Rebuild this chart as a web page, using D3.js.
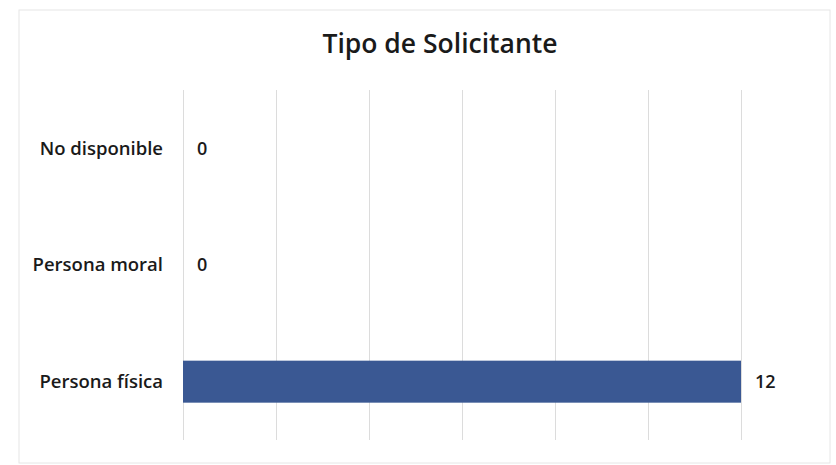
<!DOCTYPE html>
<html>
<head>
<meta charset="utf-8">
<script src="https://cdn.jsdelivr.net/npm/d3@7"></script>
<style>
  body { margin: 0; background: #fff; }
  text { font-family: "Open Sans", sans-serif; fill: #1a1a1a; }
</style>
</head>
<body>
<svg id="chart"></svg>
<script>
// data
var categories = ["No disponible", "Persona moral", "Persona física"];
var values = [0, 0, 12];
var gridTicks = [0, 2, 4, 6, 8, 10, 12];
var title = "Tipo de Solicitante";

var width = 836, height = 465;
var svg = d3.select("#chart").attr("width", width).attr("height", height);

// outer frame (faint scanned border)
svg.append("rect")
  .attr("x", 19).attr("y", 10)
  .attr("width", 811).attr("height", 453)
  .attr("fill", "none")
  .attr("stroke", "#e6e6e6")
  .attr("stroke-width", 1);

var margin = {left: 183, right: 95, top: 90, bottom: 25};
var x = d3.scaleLinear().domain([0, 12]).range([margin.left, width - margin.right]);
var y = d3.scaleBand().domain(categories)
  .range([margin.top, height - margin.bottom])
  .paddingInner(0.64).paddingOuter(0.32);

// gridlines
svg.append("g")
  .selectAll("line")
  .data(gridTicks)
  .enter().append("line")
  .attr("x1", d => x(d) + 0.5).attr("x2", d => x(d) + 0.5)
  .attr("y1", margin.top).attr("y2", 440)
  .attr("stroke", "#dcdcdc")
  .attr("stroke-width", 1);

// bars
svg.append("g")
  .selectAll("rect")
  .data(values)
  .enter().append("rect")
  .attr("x", x(0))
  .attr("y", (d, i) => y(categories[i]))
  .attr("width", d => x(d) - x(0))
  .attr("height", y.bandwidth())
  .attr("fill", "#3a5893");

// category labels
svg.append("g")
  .selectAll("text")
  .data(categories)
  .enter().append("text")
  .attr("x", 163)
  .attr("y", d => y(d) + y.bandwidth() / 2)
  .attr("dy", "0.35em")
  .attr("text-anchor", "end")
  .style("font-size", "18.5px")
  .style("font-weight", "600")
  .text(d => d);

// value labels
svg.append("g")
  .selectAll("text")
  .data(values)
  .enter().append("text")
  .attr("x", d => x(d) + 14)
  .attr("y", (d, i) => y(categories[i]) + y.bandwidth() / 2)
  .attr("dy", "0.35em")
  .style("font-size", "18px")
  .style("font-weight", "600")
  .text(d => d);

// title
svg.append("text")
  .attr("x", 440)
  .attr("y", 53)
  .attr("text-anchor", "middle")
  .style("font-size", "26.5px")
  .style("font-weight", "600")
  .text(title);
</script>
</body>
</html>
